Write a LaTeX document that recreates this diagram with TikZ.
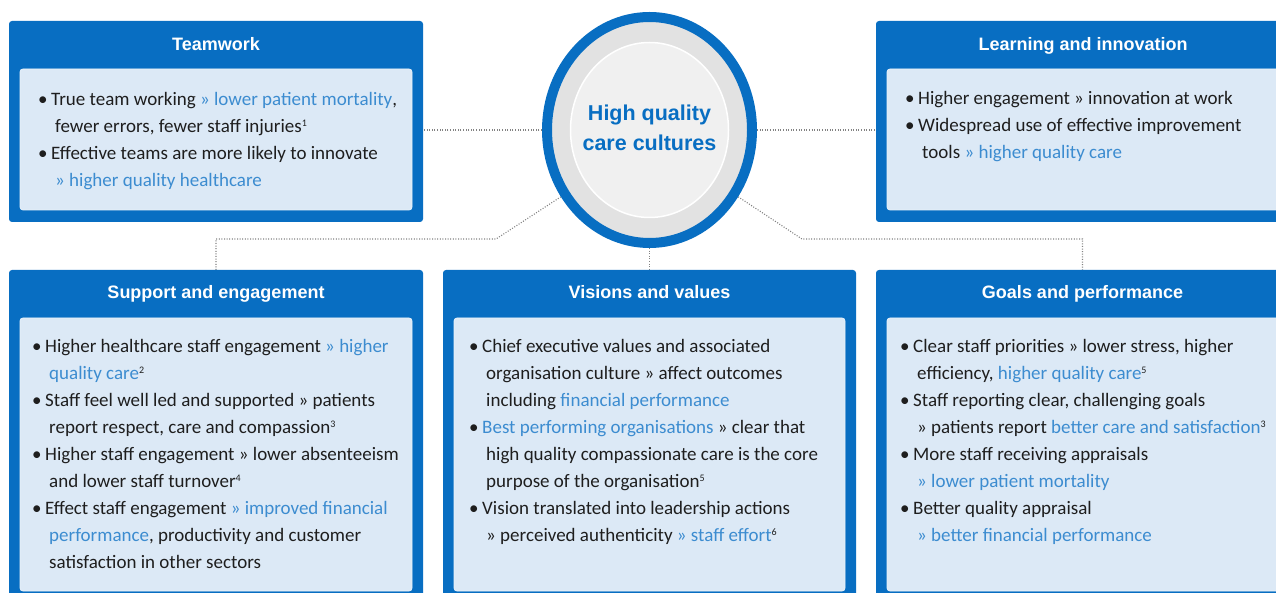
\documentclass[tikz,border=0pt]{standalone}
\usepackage{fontspec}
\setmainfont{Carlito}
\newfontfamily\titlefont{Liberation Sans}
\usetikzlibrary{shapes.geometric,calc}
\definecolor{nhsblue}{RGB}{8,110,194}
\definecolor{panel}{RGB}{220,233,246}
\definecolor{panelline}{RGB}{234,242,250}
\definecolor{accent}{RGB}{60,140,208}
\definecolor{bodytext}{RGB}{30,30,30}
\definecolor{ringgray}{RGB}{226,226,226}
\definecolor{coregray}{RGB}{240,240,240}
\definecolor{dotgray}{RGB}{130,130,130}
\pgfdeclarelayer{bg}
\pgfsetlayers{bg,main}
\newcommand{\hl}[1]{\textcolor{accent}{#1}}
\newcommand{\bul}{\rule{0pt}{16pt}\makebox[13pt][l]{•}}
\newcommand{\cont}{\rule{0pt}{16pt}\hspace*{17pt}}
\newcommand{\sref}[1]{\raisebox{5.5pt}{\fontsize{10}{10}\selectfont #1}}
\begin{document}
\begin{tikzpicture}[x=1pt,y=-1pt,
  outerbox/.style={fill=nhsblue, rounded corners=3pt, anchor=north west, inner sep=0pt, outer sep=0pt},
  innerbox/.style={fill=panel, draw=panelline, line width=0.8pt, rounded corners=3pt, anchor=north west, inner sep=0pt, outer sep=0pt},
  titletext/.style={font=\titlefont\bfseries\fontsize{18}{20}\selectfont, text=white, anchor=base, inner sep=0pt},
  bodytxt/.style={font=\fontsize{19}{27}\selectfont, text=bodytext, align=left, anchor=north west, inner sep=0pt},
  link/.style={draw=dotgray, line width=1.1pt, dash pattern=on 1pt off 1.6pt}]
\useasboundingbox (0,0) rectangle (1276,593);
\clip (0,0) rectangle (1276,593);

% boxes
\node[outerbox, minimum width=414pt, minimum height=201pt] (team) at (9,21) {};
\node[innerbox, minimum width=392pt, minimum height=141pt] (teami) at (20,69) {};
\node[outerbox, minimum width=414pt, minimum height=201pt] (learn) at (876,21) {};
\node[innerbox, minimum width=400pt, minimum height=141pt] (learni) at (887,69) {};
\node[outerbox, minimum width=414pt, minimum height=340pt] (supp) at (9,270) {};
\node[innerbox, minimum width=392pt, minimum height=273pt] (suppi) at (20,318) {};
\node[outerbox, minimum width=413pt, minimum height=340pt] (vis) at (443,270) {};
\node[innerbox, minimum width=391pt, minimum height=273pt] (visi) at (454,318) {};
\node[outerbox, minimum width=414pt, minimum height=340pt] (goals) at (876,270) {};
\node[innerbox, minimum width=400pt, minimum height=273pt] (goalsi) at (887,318) {};

% titles
\node[titletext] (ttitle) at (216,51) {Teamwork};
\node[titletext] (ltitle) at (1083,51) {Learning and innovation};
\node[titletext] (stitle) at (216,299) {Support and engagement};
\node[titletext] (vtitle) at (649.5,299) {Visions and values};
\node[titletext] (gtitle) at (1082.5,299) {Goals and performance};

% hub
\node[ellipse, minimum width=205pt, minimum height=226pt, draw=nhsblue, line width=10pt, fill=ringgray, inner sep=0pt] (hub) at (649.5,130) {};
\node[ellipse, minimum width=158pt, minimum height=175pt, draw=white, line width=1.5pt, fill=coregray, inner sep=0pt] (core) at (649.5,130) {};
\node[font=\titlefont\bfseries\fontsize{21.5}{30}\selectfont, text=nhsblue, align=center, inner sep=0pt] (hubtext) at (649.5,128) {High quality\\care cultures};

% connectors
\coordinate (kl) at (496,239);
\coordinate (kr) at (802,239);
\begin{pgfonlayer}{bg}
\fill[white] (0,0) rectangle (1276,593);
\draw[link] (hub.west) -- (hub.west -| team.east);
\draw[link] (hub.east) -- (hub.east -| learn.west);
\draw[link] (hub.217) -- (kl) -| (supp.north);
\draw[link] (hub.323) -- (kr) -| (gtitle |- goals.north);
\draw[link] (hub.south) -- (vis.north);
\end{pgfonlayer}

% texts
\node[bodytxt] (teamt) at (38,89) {\bul True team working \hl{» lower patient mortality},\\
\cont fewer errors, fewer staff injuries\sref{1}\\
\bul Effective teams are more likely to innovate\\
\cont\hl{» higher quality healthcare}};

\node[bodytxt] (learnt) at (905,88) {\bul Higher engagement » innovation at work\\
\bul Widespread use of effective improvement\\
\cont tools \hl{» higher quality care}};

\node[bodytxt] (suppt) at (32,336) {\bul Higher healthcare staff engagement \hl{» higher}\\
\cont\hl{quality care}\sref{2}\\
\bul Staff feel well led and supported » patients\\
\cont report respect, care and compassion\sref{3}\\
\bul Higher staff engagement » lower absenteeism\\
\cont and lower staff turnover\sref{4}\\
\bul Effect staff engagement \hl{» improved financial}\\
\cont\hl{performance}, productivity and customer\\
\cont satisfaction in other sectors};

\node[bodytxt] (vist) at (469,336) {\bul Chief executive values and associated\\
\cont organisation culture » affect outcomes\\
\cont including \hl{financial performance}\\
\bul\hl{Best performing organisations} » clear that\\
\cont high quality compassionate care is the core\\
\cont purpose of the organisation\sref{5}\\
\bul Vision translated into leadership actions\\
\cont» perceived authenticity \hl{» staff effort}\sref{6}};

\node[bodytxt] (goalst) at (900,336) {\bul Clear staff priorities » lower stress, higher\\
\cont efficiency, \hl{higher quality care}\sref{5}\\
\bul Staff reporting clear, challenging goals\\
\cont» patients report \hl{better care and satisfaction}\sref{3}\\
\bul More staff receiving appraisals\\
\cont\hl{» lower patient mortality}\\
\bul Better quality appraisal\\
\cont\hl{» better financial performance}};
\end{tikzpicture}
\end{document}
